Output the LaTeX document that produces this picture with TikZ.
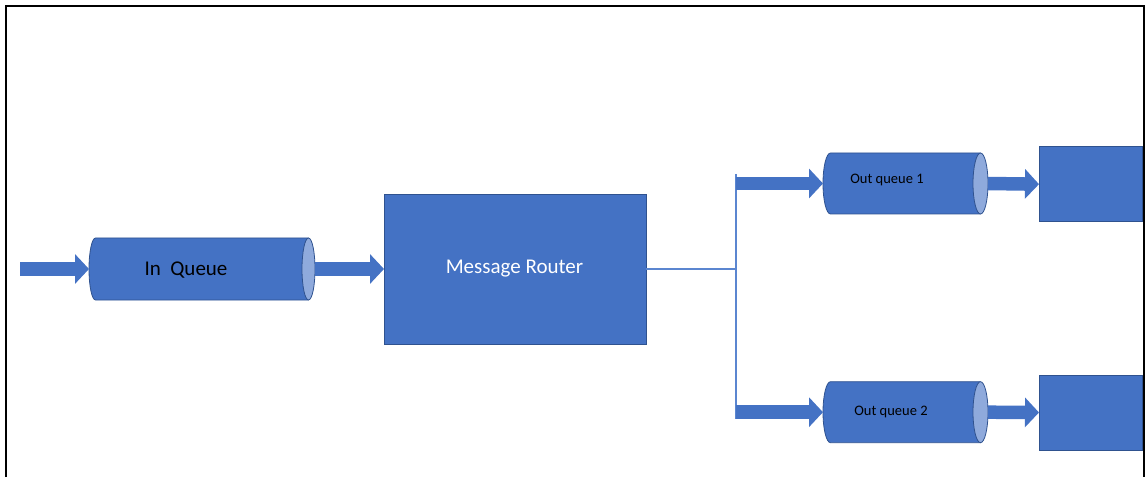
\documentclass[tikz,border=0pt]{standalone}
\usepackage{fontspec}
\setmainfont{Carlito}
\usetikzlibrary{arrows.meta}
\definecolor{fillblue}{HTML}{4472C4}
\definecolor{edgeblue}{HTML}{2F528F}
\definecolor{capblue}{HTML}{8FAADC}
\definecolor{lineblue}{HTML}{5B86D0}
% name, left x, right x, centre y, cap x radius, y radius
\newcommand\mycyl[6]{%
  \fill[fillblue] ({#2+#5},{#4+#6}) -- ({#3-#5},{#4+#6}) -- ({#3-#5},{#4-#6}) -- ({#2+#5},{#4-#6})
    arc[start angle=-90,end angle=-270,x radius=#5,y radius=#6] -- cycle;
  \draw[edgeline] ({#3-#5},{#4+#6}) -- ({#2+#5},{#4+#6})
    arc[start angle=90,end angle=270,x radius=#5,y radius=#6] -- ({#3-#5},{#4-#6});
  \filldraw[edgeline, fill=capblue] ({#3-#5},#4) ellipse[x radius=#5, y radius=#6];
  \node[anchorbox, minimum width={(#3-#2)*1pt}, minimum height={(2*#6)*1pt}] (#1) at ({(#2+#3)/2},#4) {};
}
\begin{document}
\begin{tikzpicture}[x=1pt,y=1pt,
  edgeline/.style={draw=edgeblue, line width=0.8pt},
  anchorbox/.style={inner sep=0pt, outer sep=0pt},
  box/.style={draw=edgeblue, line width=0.8pt, fill=fillblue, inner sep=0pt, outer sep=0pt},
  fat/.style={draw=fillblue, line width=13.5pt, -{Triangle[width=29pt,length=14pt]}},
  thinline/.style={draw=lineblue, line width=1.2pt},
  big/.style={font=\fontsize{21}{25}\selectfont},
  small/.style={font=\fontsize{14.5}{17}\selectfont}
]
\useasboundingbox (0,0) rectangle (1145,477);
% frame
\draw[line width=2pt] (6.3,0) -- (6.3,470.7) -- (1143.5,470.7) -- (1143.5,0);

% queues
\mycyl{inq}{89}{315}{208}{6.5}{31}
\mycyl{oq1}{823}{988}{293.5}{7.5}{30.5}
\mycyl{oq2}{823}{988}{64.8}{7.5}{30.5}

% boxes
\node[box, minimum width=262pt, minimum height=150pt] (router) at (515,208) {};
\node[box, minimum width=103pt, minimum height=75pt] (box1) at (1090.5,292.8) {};
\node[box, minimum width=103pt, minimum height=75pt] (box2) at (1090.5,64.5) {};

% coordinates
\coordinate (start) at (20,208);
\coordinate (split) at (736,208);
\coordinate (vtop) at (736,303);
\coordinate (vbot) at (736,58);
\coordinate (b1) at (736,293.5);
\coordinate (b2) at (736,64.8);

% connectors
\draw[fat] (start) -- (inq.west);
\draw[fat] (inq.east) -- (router.west);
\draw[thinline] (router.east) -- (split);
\draw[thinline] (vtop) -- (vbot);
\draw[fat] (b1) -- (oq1.west);
\draw[fat] (b2) -- (oq2.west);
\draw[fat] (oq1.east) -- (box1.west);
\draw[fat] (oq2.east) -- (box2.west);

% labels
\node[big] (inqt) at (186,207) {In\ \ Queue};
\node[big, text=white] (routert) at (514.5,208) {Message Router};
\node[small] (oq1t) at (887,297) {Out queue 1};
\node[small] (oq2t) at (891,65) {Out queue 2};
\end{tikzpicture}
\end{document}
